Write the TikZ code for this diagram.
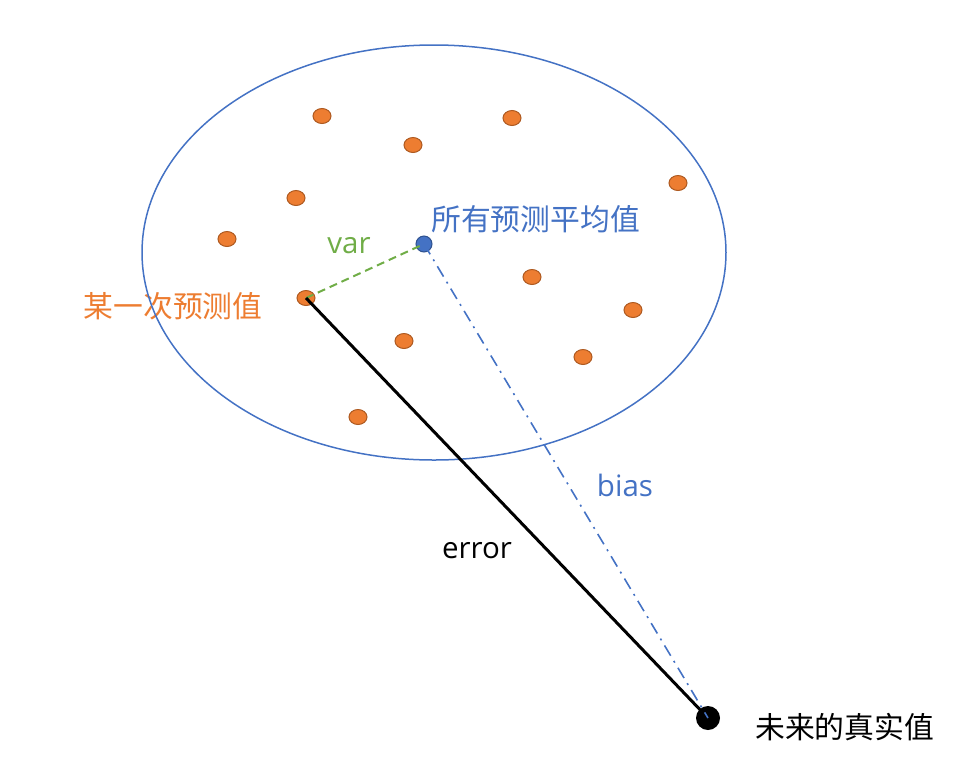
\documentclass[tikz,border=0pt]{standalone}
\usepackage{fontspec}
\newfontfamily\cjk{Noto Sans CJK SC}
\newfontfamily\lat{Open Sans}
\definecolor{ored}{HTML}{ED7D31}
\definecolor{oredd}{HTML}{AE5A21}
\definecolor{oblue}{HTML}{4472C4}
\definecolor{obluedd}{HTML}{2F528F}
\definecolor{ogreen}{HTML}{70AD47}
\definecolor{otext}{HTML}{ED7D31}
\begin{document}
\begin{tikzpicture}[x=1pt,y=-1pt,
  pred/.style={ellipse,draw=oredd,fill=ored,line width=1pt,minimum width=18pt,minimum height=15pt,inner sep=0pt},
  meanpt/.style={circle,draw=obluedd,fill=oblue,line width=1pt,minimum size=16pt,inner sep=0pt},
  truept/.style={circle,fill=black,minimum size=24pt,inner sep=0pt},
  cjklbl/.style={font=\cjk\fontsize{29.8}{32}\selectfont,inner sep=0pt},
  latlbl/.style={font=\lat\fontsize{29.5}{32}\selectfont,inner sep=0pt}]
\usetikzlibrary{shapes.geometric}
\useasboundingbox (0,0) rectangle (972,764);
% labels
\node[cjklbl,text=oblue,anchor=west] (lmean) at (431,219) {所有预测平均值};
\node[latlbl,text=ogreen] (lvar) at (349,246) {var};
\node[cjklbl,text=otext] (lone) at (173,306) {某一次预测值};
\node[latlbl,text=oblue] (lbias) at (625,485) {bias};
\node[latlbl,text=black] (lerr) at (477,551) {error};
\node[cjklbl,text=black,anchor=west] (ltrue) at (755,727) {未来的真实值};
% ellipse
\draw[oblue,line width=1.5pt] (434,252.5) ellipse [x radius=292, y radius=207.5];
% predictions
\foreach \n/\x/\y in {a/322/116, b/413/145, c/512/118, d/678/183, e/296/198, f/227/239,
  g/532/277, h/633/310, i/404/341, j/583/357, k/358/417}
  \node[pred] (\n) at (\x,\y) {};
\node[pred] (one) at (306,298) {};
\node[meanpt] (mean) at (424,244) {};
\node[truept] (truth) at (708,718) {};
% connectors
\draw[ogreen,line width=2pt,dash pattern=on 8pt off 5pt] (one.center) -- (mean.center);
\draw[black,line width=3pt] (one.center) -- (truth.center);
\draw[oblue,line width=1.6pt,dash pattern=on 12pt off 6pt on 2pt off 6pt] (mean.center) -- (truth.center);
\end{tikzpicture}
\end{document}
